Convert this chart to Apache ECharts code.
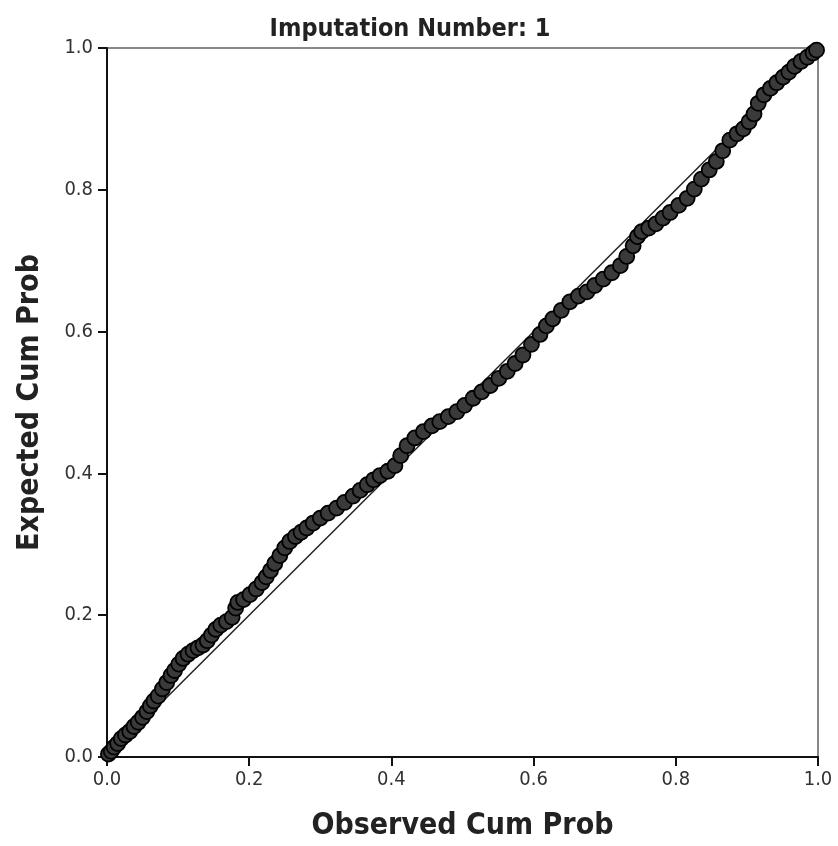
<!DOCTYPE html>
<html><head><meta charset="utf-8">
<script src="https://cdn.jsdelivr.net/npm/echarts@6/dist/echarts.min.js"></script>
<style>html,body{margin:0;padding:0;background:#fff}#c{width:838px;height:846px}</style>
</head><body><div id="c"></div>
<script>
const titleText = "Imputation Number: 1";
const xName = "Observed Cum Prob";
const yName = "Expected Cum Prob";
const observed = [0.002,0.006,0.010,0.015,0.020,0.026,0.032,0.038,0.044,0.050,0.056,0.061,0.066,0.072,0.078,0.084,0.090,0.095,0.101,0.107,0.114,0.121,0.128,0.135,0.141,0.147,0.153,0.160,0.168,0.176,0.181,0.184,0.192,0.201,0.210,0.218,0.224,0.230,0.236,0.243,0.250,0.257,0.265,0.273,0.281,0.290,0.300,0.311,0.323,0.334,0.346,0.356,0.366,0.375,0.384,0.395,0.405,0.413,0.422,0.433,0.445,0.457,0.468,0.480,0.492,0.503,0.515,0.527,0.539,0.551,0.563,0.574,0.585,0.597,0.609,0.618,0.627,0.639,0.651,0.663,0.675,0.686,0.698,0.710,0.722,0.731,0.740,0.746,0.752,0.762,0.772,0.782,0.792,0.804,0.816,0.826,0.836,0.847,0.857,0.866,0.876,0.886,0.895,0.903,0.910,0.916,0.924,0.933,0.942,0.951,0.959,0.967,0.976,0.985,0.993,0.998];
const expected = [0.004,0.008,0.014,0.019,0.026,0.031,0.036,0.043,0.049,0.056,0.064,0.072,0.079,0.086,0.096,0.105,0.115,0.122,0.131,0.139,0.145,0.150,0.154,0.158,0.164,0.172,0.180,0.186,0.191,0.197,0.210,0.218,0.222,0.229,0.237,0.246,0.254,0.263,0.273,0.284,0.295,0.304,0.311,0.317,0.323,0.330,0.337,0.344,0.351,0.359,0.368,0.376,0.384,0.391,0.397,0.403,0.411,0.425,0.439,0.450,0.459,0.467,0.473,0.480,0.487,0.496,0.506,0.515,0.524,0.534,0.544,0.555,0.567,0.582,0.596,0.608,0.618,0.630,0.642,0.650,0.656,0.665,0.674,0.683,0.693,0.706,0.721,0.734,0.741,0.746,0.752,0.760,0.768,0.778,0.788,0.801,0.815,0.828,0.840,0.855,0.870,0.879,0.886,0.896,0.907,0.922,0.934,0.943,0.951,0.959,0.966,0.974,0.981,0.987,0.993,0.997];
const refLine = [[0,0],[1,1]];

const pts = observed.map((x,i)=>[x, expected[i]]);
const font = "'DejaVu Sans Condensed','DejaVu Sans',sans-serif";
const chart = echarts.init(document.getElementById('c'), null, {renderer:'canvas'});
chart.setOption({
  animation:false,
  title:{text:titleText,left:405,top:12,textAlign:'center',
    textStyle:{fontFamily:font,fontSize:25,fontWeight:'bold',color:'#222'}},
  grid:{left:107,right:20,top:48,bottom:86,show:true,borderColor:'#888',borderWidth:2,backgroundColor:'transparent'},
  xAxis:{type:'value',min:0,max:1,interval:0.2,name:xName,nameLocation:'middle',nameGap:54,
    nameTextStyle:{fontFamily:font,fontSize:30,fontWeight:'bold',color:'#222'},
    axisLine:{show:true,onZero:false,lineStyle:{color:'#111',width:2}},
    axisTick:{show:true,length:9,lineStyle:{color:'#111',width:2}},
    axisLabel:{fontFamily:font,fontSize:20,color:'#333',margin:13,formatter:v=>v.toFixed(1)},
    splitLine:{show:false}},
  yAxis:{type:'value',min:0,max:1,interval:0.2,name:yName,nameLocation:'middle',nameGap:62,
    nameTextStyle:{fontFamily:font,fontSize:30,fontWeight:'bold',color:'#222'},
    axisLine:{show:true,onZero:false,lineStyle:{color:'#111',width:2}},
    axisTick:{show:true,length:9,lineStyle:{color:'#111',width:2}},
    axisLabel:{fontFamily:font,fontSize:20,color:'#333',margin:14,formatter:v=>v.toFixed(1)},
    splitLine:{show:false}},
  series:[
    {type:'line',data:refLine,symbol:'none',lineStyle:{color:'#222',width:1.5},z:1,silent:true},
    {type:'scatter',data:pts,symbol:'circle',symbolSize:15,
     itemStyle:{color:'#3a3a3a',borderColor:'#000',borderWidth:1.8,opacity:1},z:2}
  ]
});
</script></body></html>
